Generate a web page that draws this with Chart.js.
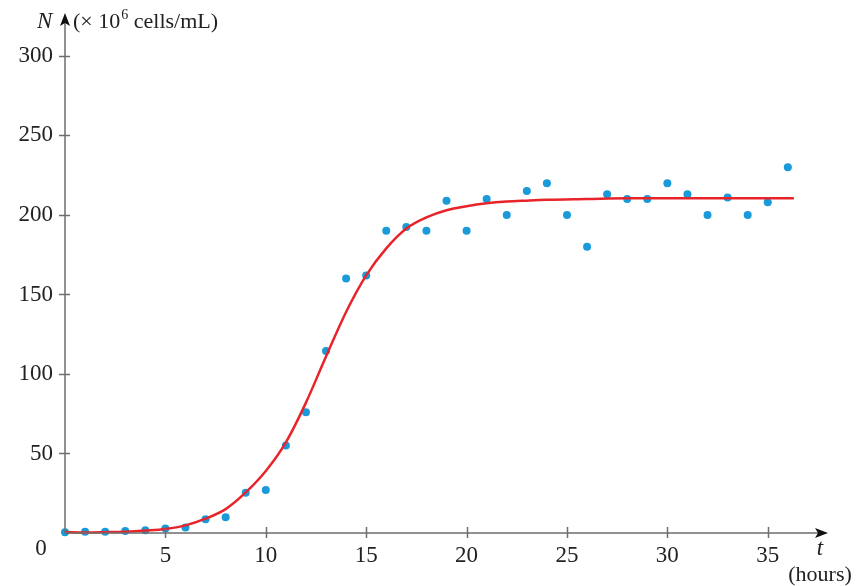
<!DOCTYPE html>
<html>
<head>
<meta charset="utf-8">
<script src="https://cdn.jsdelivr.net/npm/chart.js@4.4.1/dist/chart.umd.min.js"></script>
<style>
  html, body { margin: 0; padding: 0; background: #fff; }
  #wrap { width: 861px; height: 586px; }
</style>
</head>
<body>
<div id="wrap"><canvas id="chart" width="861" height="586"></canvas></div>
<script>
// measured cell counts (x 10^6 cells/mL) per hour
const hours = [0,1,2,3,4,5,6,7,8,9,10,11,12,13,14,15,16,17,18,19,20,21,22,23,24,25,26,27,28,29,30,31,32,33,34,35,36];
const cells = [0.5,0.8,0.8,1.3,1.7,2.9,3.4,8.6,9.9,25.3,27,55,76,114.5,160,162,190,192.5,190,209,190,210,200,215,220,200,180,213,210,210,220,213,200,211,200,208,230];

// fitted curve
const fitT = [0,1,2,3,4,5,6,7,8,9,10,11,12,13,14,15,16,17,18,19,20,21,22,23,24,26,28,30,33,36.3];
const fitN = [0.5,0.3,0.5,0.8,1.5,2.5,4.8,9,15,25.5,39,57,82,111,139,162,179,191.5,198.5,203,205.5,207.3,208.4,209,209.5,210,210.5,210.5,210.5,210.5];

const xTicks = [5,10,15,20,25,30,35];
const yTicks = [50,100,150,200,250,300];

const FONT = '"Liberation Serif", "DejaVu Serif", serif';
const AXIS = '#6e6e6e';

const axesPlugin = {
  id: 'axes',
  afterDatasetsDraw(chart) {
    const ctx = chart.ctx;
    const xs = chart.scales.x, ys = chart.scales.y;
    const x0 = xs.getPixelForValue(0), y0 = ys.getPixelForValue(0);
    const xEnd = chart.chartArea.right, yEnd = chart.chartArea.top;
    ctx.save();
    ctx.strokeStyle = AXIS;
    ctx.lineWidth = 1.5;
    ctx.beginPath();
    ctx.moveTo(x0, y0); ctx.lineTo(xEnd - 6, y0);
    ctx.moveTo(x0, y0); ctx.lineTo(x0, yEnd + 6);
    xTicks.forEach(v => {
      const px = Math.round(xs.getPixelForValue(v)) + 0.5;
      ctx.moveTo(px, y0 - 6); ctx.lineTo(px, y0 + 5);
    });
    yTicks.forEach(v => {
      const py = Math.round(ys.getPixelForValue(v)) + 0.5;
      ctx.moveTo(x0 - 6, py); ctx.lineTo(x0 + 5, py);
    });
    ctx.stroke();

    // arrow heads
    ctx.fillStyle = '#111';
    ctx.beginPath();
    ctx.moveTo(xEnd, y0); ctx.lineTo(xEnd - 13, y0 - 5); ctx.lineTo(xEnd - 10, y0); ctx.lineTo(xEnd - 13, y0 + 5);
    ctx.closePath(); ctx.fill();
    ctx.beginPath();
    ctx.moveTo(x0, yEnd); ctx.lineTo(x0 - 5, yEnd + 13); ctx.lineTo(x0, yEnd + 10); ctx.lineTo(x0 + 5, yEnd + 13);
    ctx.closePath(); ctx.fill();

    // tick labels
    ctx.fillStyle = '#222';
    ctx.font = '23px ' + FONT;
    ctx.textAlign = 'center';
    ctx.textBaseline = 'middle';
    xTicks.forEach(v => ctx.fillText(String(v), xs.getPixelForValue(v), y0 + 23));
    ctx.textAlign = 'right';
    yTicks.forEach(v => ctx.fillText(String(v), x0 - 12, ys.getPixelForValue(v)));
    ctx.textAlign = 'center';
    ctx.fillText('0', 41, y0 + 16);

    // axis titles
    ctx.textBaseline = 'alphabetic';
    ctx.textAlign = 'left';
    ctx.font = 'italic 23px ' + FONT;
    ctx.fillText('N', 37, 28);
    ctx.font = '22px ' + FONT;
    let tx = 73;
    const part1 = '(\u00d7 10';
    ctx.fillText(part1, tx, 28);
    tx += ctx.measureText(part1).width + 1;
    ctx.font = '14px ' + FONT;
    ctx.fillText('6', tx, 19);
    tx += ctx.measureText('6').width;
    ctx.font = '22px ' + FONT;
    ctx.fillText(' cells/mL)', tx, 28);

    ctx.textAlign = 'center';
    ctx.font = 'italic 23px ' + FONT;
    ctx.fillText('t', 820, 555);
    ctx.font = '22px ' + FONT;
    ctx.fillText('(hours)', 820, 581);
    ctx.restore();
  }
};

new Chart(document.getElementById('chart'), {
  type: 'scatter',
  data: {
    datasets: [
      {
        type: 'line',
        data: fitT.map((t, i) => ({ x: t, y: fitN[i] })),
        borderColor: '#e8242b',
        borderWidth: 2.5,
        pointRadius: 0,
        cubicInterpolationMode: 'monotone',
        fill: false,
        clip: false,
        order: 1
      },
      {
        data: hours.map((t, i) => ({ x: t, y: cells[i] })),
        backgroundColor: '#1a9ad9',
        borderWidth: 0,
        pointRadius: 4,
        clip: false,
        order: 2
      }
    ]
  },
  options: {
    responsive: false,
    animation: false,
    layout: { padding: { left: 65, right: 33, top: 13, bottom: 53 } },
    plugins: { legend: { display: false }, tooltip: { enabled: false } },
    scales: {
      x: { type: 'linear', min: 0, max: 38, display: false },
      y: { type: 'linear', min: 0, max: 327, display: false }
    }
  },
  plugins: [axesPlugin]
});
</script>
</body>
</html>
